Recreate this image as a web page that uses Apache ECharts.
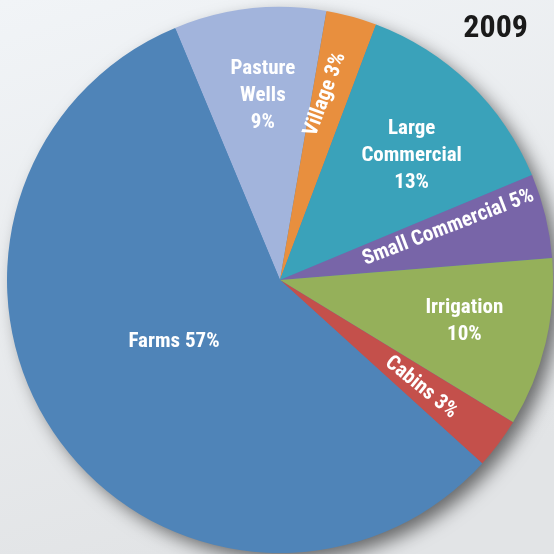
<!DOCTYPE html>
<html>
<head>
<meta charset="utf-8">
<script src="https://cdn.jsdelivr.net/npm/echarts@6/dist/echarts.min.js"></script>
<style>
  html, body { margin: 0; padding: 0; background: #edf0f3; }
  #chart { width: 554px; height: 554px; }
</style>
</head>
<body>
<div id="chart"></div>
<script>
var categories = ['Pasture Wells', 'Village', 'Large Commercial', 'Small Commercial', 'Irrigation', 'Cabins', 'Farms'];
var values = [9, 3, 13, 5, 10, 3, 57];
var labelTexts = ['Pasture\nWells\n9%', 'Village 3%', 'Large\nCommercial\n13%', 'Small Commercial 5%', 'Irrigation\n10%', 'Cabins 3%', 'Farms 57%'];
var colors = ['#a2b4dc', '#e88f3e', '#3aa2ba', '#7865a8', '#95b05a', '#c4504b', '#4f84b8'];
var labelRotate = [0, 70, 0, 21, 0, -39, 0];
// small nudges of the labels (in the label's own rotated frame)
var labelNudge = [[4, 4], [1, -5], [0, 12], [-12, -13], [0, -3], [-12, 2], [8, -19]];

var chart = echarts.init(document.getElementById('chart'));

var font = '"Liberation Sans Narrow", "Roboto Condensed", Roboto, sans-serif';
var center = [280, 280];
var startAngle = 112.6;

var mainData = categories.map(function (c, i) {
  return {
    name: c,
    value: values[i],
    itemStyle: { color: colors[i] },
    label: { show: c === 'Farms' }
  };
});

var labelData = categories.map(function (c, i) {
  return {
    name: c,
    value: values[i],
    label: { show: c !== 'Farms', rotate: labelRotate[i] }
  };
});

function nudge(params) {
  var n = labelNudge[params.dataIndex];
  return { dx: n[0], dy: n[1] };
}

var labelStyle = {
  position: 'inside',
  color: '#ffffff',
  fontFamily: font,
  fontWeight: 'bold',
  fontSize: 21,
  lineHeight: 27,
  align: 'center',
  formatter: function (p) { return labelTexts[p.dataIndex]; }
};

var option = {
  backgroundColor: {
    type: 'linear', x: 0, y: 0, x2: 0.3, y2: 1,
    colorStops: [{ offset: 0, color: '#f1f4f7' }, { offset: 1, color: '#e2e4e6' }]
  },
  animation: false,
  title: {
    text: '2009',
    right: 21,
    top: 8,
    textStyle: { fontFamily: font, fontWeight: 'bold', fontSize: 32, color: '#1a1a1a' }
  },
  series: [
    {
      // shadow disc underneath
      type: 'pie',
      silent: true,
      center: center,
      radius: 272,
      z: 1,
      label: { show: false },
      itemStyle: {
        color: '#4f84b8',
        shadowBlur: 18,
        shadowOffsetX: 8,
        shadowOffsetY: 8,
        shadowColor: 'rgba(0,0,0,0.55)'
      },
      data: [{ value: 1 }]
    },
    {
      type: 'pie',
      center: center,
      radius: 273,
      startAngle: startAngle,
      clockwise: true,
      z: 2,
      label: labelStyle,
      labelLine: { show: false },
      labelLayout: nudge,
      data: mainData
    },
    {
      type: 'pie',
      silent: true,
      center: center,
      radius: [100, 273],
      startAngle: startAngle,
      clockwise: true,
      z: 3,
      itemStyle: { color: 'rgba(0,0,0,0)' },
      label: labelStyle,
      labelLine: { show: false },
      labelLayout: nudge,
      data: labelData
    }
  ]
};

chart.setOption(option);
</script>
</body>
</html>
